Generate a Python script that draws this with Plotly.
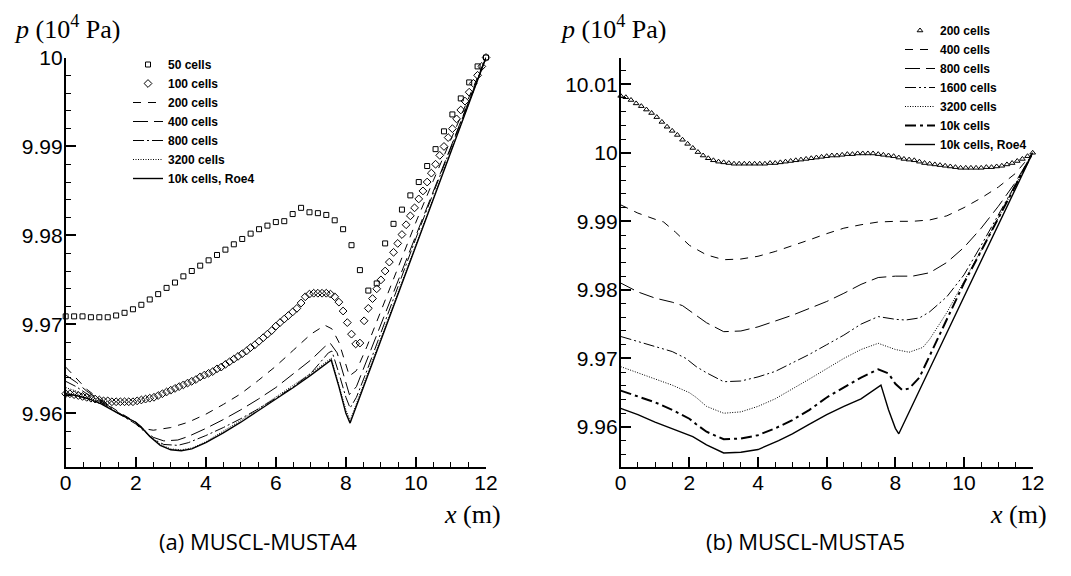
import plotly.graph_objects as go

# ---------------- data: left panel (MUSCL-MUSTA4) ----------------
dx_50 = 0.24
p_50 = [9.9709, 9.9709, 9.9709, 9.9708, 9.9708, 9.9708, 9.9710, 9.9713, 9.9717, 9.9722,
        9.9728, 9.9734, 9.9741, 9.9747, 9.9754, 9.9760, 9.9766, 9.9772, 9.9778, 9.9784,
        9.9790, 9.9796, 9.9802, 9.9807, 9.9811, 9.9815, 9.9816, 9.9824, 9.9831, 9.9826,
        9.9825, 9.9823, 9.9817, 9.9807, 9.9789, 9.9761, 9.9738, 9.9746, 9.9791, 9.9813,
        9.9829, 9.9845, 9.9860, 9.9878, 9.9897, 9.9917, 9.9936, 9.9954, 9.9972, 9.9990,
        10.0000]

dx_100 = 0.12
p_100 = [9.9622, 9.9622, 9.9621, 9.9620, 9.9619, 9.9618, 9.9617, 9.9616, 9.9615, 9.9614,
         9.9614, 9.9613, 9.9613, 9.9613, 9.9613, 9.9613, 9.9613, 9.9614, 9.9615, 9.9616,
         9.9617, 9.9618, 9.9620, 9.9622, 9.9624, 9.9626, 9.9628, 9.9630, 9.9632, 9.9634,
         9.9636, 9.9638, 9.9641, 9.9643, 9.9645, 9.9647, 9.9650, 9.9652, 9.9655, 9.9658,
         9.9661, 9.9664, 9.9667, 9.9670, 9.9674, 9.9677, 9.9681, 9.9685, 9.9689, 9.9693,
         9.9698, 9.9702, 9.9706, 9.9710, 9.9714, 9.9718, 9.9724, 9.9731, 9.9734, 9.9735,
         9.9735, 9.9735, 9.9735, 9.9734, 9.9731, 9.9725, 9.9715, 9.9702, 9.9689, 9.9678,
         9.9679, 9.9704, 9.9718, 9.9729, 9.9740, 9.9750, 9.9760, 9.9770, 9.9781, 9.9791,
         9.9801, 9.9812, 9.9822, 9.9831, 9.9841, 9.9850, 9.9860, 9.9870, 9.9880, 9.9890,
         9.9900, 9.9910, 9.9920, 9.9931, 9.9941, 9.9951, 9.9961, 9.9971, 9.9980, 9.9990,
         10.0000]

a200_x = [0, 0.3, 0.6, 1.0, 1.5, 2.0, 2.2, 2.5, 3.0, 3.5, 4.0, 4.5, 5.0, 5.5, 6.0, 6.5, 7.0,
          7.4, 7.6, 7.8, 8.0, 8.1, 8.3, 8.6, 9.0, 9.5, 10.0, 10.5, 11.0, 11.5, 12.0]
a200_p = [9.9652, 9.9640, 9.9627, 9.9615, 9.9602, 9.9590, 9.9583, 9.9581, 9.9584, 9.9590,
          9.9599, 9.9610, 9.9622, 9.9637, 9.9653, 9.9671, 9.9689, 9.9699, 9.9695, 9.9680,
          9.9653, 9.9642, 9.9648, 9.9675, 9.9715, 9.9765, 9.9815, 9.9862, 9.9908, 9.9954, 10.0]

a400_x = [0, 0.3, 0.6, 1.0, 1.5, 2.0, 2.2, 2.5, 2.8, 3.2, 3.5, 4.0, 4.5, 5.0, 5.5, 6.0, 6.5,
          7.0, 7.4, 7.55, 7.75, 7.95, 8.1, 8.3, 8.6, 9.0, 9.5, 10.0, 10.5, 11.0, 11.5, 12.0]
a400_p = [9.9643, 9.9635, 9.9625, 9.9614, 9.9601, 9.9589, 9.9582, 9.9573, 9.9569, 9.9570,
          9.9574, 9.9583, 9.9593, 9.9604, 9.9616, 9.9629, 9.9644, 9.9660, 9.9675, 9.9679,
          9.9668, 9.9640, 9.9621, 9.9630, 9.9660, 9.9700, 9.9752, 9.9802, 9.9852, 9.9901,
          9.9951, 10.0]

a800_x = [0, 0.3, 0.6, 1.0, 1.5, 2.0, 2.2, 2.5, 2.8, 3.2, 3.5, 4.0, 4.5, 5.0, 5.5, 6.0, 6.5,
          7.0, 7.5, 7.6, 7.8, 8.0, 8.12, 8.3, 8.6, 9.0, 9.5, 10.0, 10.5, 11.0, 11.5, 12.0]
a800_p = [9.9636, 9.9630, 9.9622, 9.9613, 9.9600, 9.9588, 9.9581, 9.9571, 9.9565, 9.9564,
          9.9567, 9.9575, 9.9584, 9.9594, 9.9605, 9.9617, 9.9630, 9.9645, 9.9668, 9.9670,
          9.9645, 9.9618, 9.9606, 9.9618, 9.9648, 9.9691, 9.9744, 9.9797, 9.9848, 9.9899,
          9.9950, 10.0]

a3200_x = [0, 0.3, 0.6, 1.0, 1.5, 2.0, 2.15, 2.4, 2.7, 3.0, 3.3, 3.6, 4.0, 4.5, 5.0, 5.5,
           6.0, 6.5, 7.0, 7.58, 7.8, 8.0, 8.12, 9.0, 10.0, 11.0, 12.0]
a3200_p = [9.9629, 9.9625, 9.9619, 9.9612, 9.9600, 9.9590, 9.9585, 9.9575, 9.9565, 9.9560,
           9.9559, 9.9561, 9.9568, 9.9580, 9.9592, 9.9605, 9.9618, 9.9631, 9.9645, 9.9662,
           9.9633, 9.9604, 9.9592, 9.9685, 9.9790, 9.9895, 10.0]

aroe_x = [0, 0.3, 0.6, 1.0, 1.5, 2.0, 2.15, 2.4, 2.7, 3.0, 3.3, 3.6, 4.0, 4.5, 5.0, 5.5,
          6.0, 6.5, 7.0, 7.58, 7.8, 8.0, 8.12, 9.0, 10.0, 11.0, 12.0]
aroe_p = [9.9622, 9.9620, 9.9617, 9.9611, 9.9600, 9.9590, 9.9585, 9.9574, 9.9564, 9.9559,
          9.9558, 9.9560, 9.9567, 9.9578, 9.9590, 9.9603, 9.9616, 9.9629, 9.9643, 9.9660,
          9.9630, 9.9600, 9.9589, 9.9682, 9.9788, 9.9894, 10.0]

# ---------------- data: right panel (MUSCL-MUSTA5) ----------------
dx_200 = 0.15
b200_p = [10.0083, 10.0081, 10.0077, 10.0072, 10.0068, 10.0063, 10.0058, 10.0052, 10.0045, 10.0038,
          10.0032, 10.0026, 10.0019, 10.0013, 10.0007, 10.0001, 9.9996, 9.9992, 9.9989, 9.9987,
          9.9986, 9.9985, 9.9984, 9.9984, 9.9984, 9.9984, 9.9984, 9.9984, 9.9984, 9.9985,
          9.9985, 9.9986, 9.9987, 9.9988, 9.9989, 9.9990, 9.9991, 9.9992, 9.9993, 9.9994,
          9.9995, 9.9996, 9.9996, 9.9997, 9.9998, 9.9998, 9.9999, 9.9999, 9.9999, 9.9999,
          9.9998, 9.9997, 9.9996, 9.9995, 9.9993, 9.9991, 9.9990, 9.9989, 9.9987, 9.9985,
          9.9984, 9.9983, 9.9982, 9.9981, 9.9980, 9.9979, 9.9978, 9.9978, 9.9978, 9.9978,
          9.9978, 9.9979, 9.9979, 9.9980, 9.9981, 9.9983, 9.9985, 9.9988, 9.9991, 9.9995,
          10.0000]

b400_x = [0, 0.5, 1.0, 1.25, 1.6, 2.0, 2.5, 3.0, 3.5, 4.0, 4.5, 5.0, 5.5, 6.0, 6.5, 7.0, 7.5,
          8.0, 8.5, 9.0, 9.5, 10.0, 10.5, 11.0, 11.5, 12.0]
b400_p = [9.9924, 9.9912, 9.9903, 9.9899, 9.9884, 9.9865, 9.9851, 9.9844, 9.9845, 9.9849,
          9.9856, 9.9864, 9.9873, 9.9882, 9.9890, 9.9895, 9.9899, 9.9900, 9.9900, 9.9902,
          9.9908, 9.9920, 9.9934, 9.9950, 9.9970, 10.0]

b800_x = [0, 0.5, 1.0, 1.5, 1.8, 2.0, 2.5, 3.0, 3.5, 4.0, 4.5, 5.0, 5.5, 6.0, 6.5, 7.0, 7.5,
          8.0, 8.5, 9.0, 9.5, 10.0, 10.5, 11.0, 11.5, 12.0]
b800_p = [9.9810, 9.9797, 9.9788, 9.9782, 9.9777, 9.9770, 9.9752, 9.9739, 9.9740, 9.9746,
          9.9754, 9.9763, 9.9773, 9.9783, 9.9795, 9.9808, 9.9818, 9.9820, 9.9820, 9.9825,
          9.9840, 9.9862, 9.9890, 9.9922, 9.9957, 10.0]

b1600_x = [0, 0.5, 1.0, 1.5, 1.9, 2.2, 2.5, 3.0, 3.5, 4.0, 4.5, 5.0, 5.5, 6.0, 6.5, 7.0, 7.5,
           8.0, 8.3, 8.7, 9.0, 9.5, 10.0, 10.5, 11.0, 11.5, 12.0]
b1600_p = [9.9732, 9.9725, 9.9718, 9.9710, 9.9700, 9.9688, 9.9679, 9.9666, 9.9667, 9.9673,
           9.9681, 9.9693, 9.9706, 9.9720, 9.9734, 9.9750, 9.9761, 9.9757, 9.9756, 9.9759,
           9.9768, 9.9790, 9.9822, 9.9865, 9.9909, 9.9954, 10.0]

b3200_x = [0, 0.5, 1.0, 1.5, 2.0, 2.2, 2.5, 3.0, 3.5, 4.0, 4.5, 5.0, 5.5, 6.0, 6.5, 7.0, 7.5,
           8.0, 8.4, 8.8, 9.0, 9.5, 10.0, 10.5, 11.0, 11.5, 12.0]
b3200_p = [9.9688, 9.9679, 9.9670, 9.9661, 9.9650, 9.9643, 9.9630, 9.9620, 9.9622, 9.9630,
           9.9641, 9.9655, 9.9670, 9.9685, 9.9700, 9.9713, 9.9722, 9.9713, 9.9709, 9.9716,
           9.9728, 9.9767, 9.9812, 9.9858, 9.9905, 9.9952, 10.0]

b10k_x = [0, 0.5, 1.0, 1.5, 2.0, 2.2, 2.5, 3.0, 3.5, 4.0, 4.5, 5.0, 5.5, 6.0, 6.5, 7.0, 7.5,
          7.8, 8.0, 8.2, 8.4, 8.7, 9.0, 9.5, 10.0, 10.5, 11.0, 11.5, 12.0]
b10k_p = [9.9653, 9.9645, 9.9636, 9.9625, 9.9612, 9.9604, 9.9593, 9.9582, 9.9583, 9.9588,
          9.9598, 9.9610, 9.9625, 9.9643, 9.9658, 9.9672, 9.9684, 9.9678, 9.9663, 9.9654,
          9.9656, 9.9672, 9.9704, 9.9756, 9.9810, 9.9857, 9.9905, 9.9952, 10.0]

broe_x = [0, 0.5, 1.0, 1.5, 2.0, 2.1, 2.5, 3.0, 3.5, 4.0, 4.6, 5.0, 5.5, 6.0, 6.5, 7.0, 7.58,
          7.8, 8.0, 8.1, 9.0, 10.0, 11.0, 12.0]
broe_p = [9.9627, 9.9618, 9.9607, 9.9597, 9.9588, 9.9586, 9.9574, 9.9562, 9.9563, 9.9567,
          9.9580, 9.9590, 9.9604, 9.9618, 9.9630, 9.9641, 9.9661, 9.9625, 9.9598, 9.9590,
          9.9685, 9.9790, 9.9895, 10.0]

# tick labels
x_tickvals = [0, 2, 4, 6, 8, 10, 12]
x_ticktext = ["0", "2", "4", "6", "8", "10", "12"]
ya_tickvals = [9.96, 9.97, 9.98, 9.99, 10.0]
ya_ticktext = ["9.96", "9.97", "9.98", "9.99", "10"]
yb_tickvals = [9.96, 9.97, 9.98, 9.99, 10.0, 10.01]
yb_ticktext = ["9.96", "9.97", "9.98", "9.99", "10", "10.01"]

# page body has an 8 px margin: the figure is drawn from (8, 8)
OFF = 8
W, H = 1071 - OFF, 576 - OFF
def px(x):
    return (x - OFF) / W
def py(y):
    return 1 - (y - OFF) / H

BLK = "black"
fig = go.Figure()

def grid(dx, vals):
    return [round(i * dx, 4) for i in range(len(vals))]

# left panel traces
fig.add_trace(go.Scatter(x=grid(dx_50, p_50), y=p_50, mode="markers", name="50 cells",
                         marker=dict(symbol="square-open", size=5, color=BLK, line=dict(width=1)),
                         cliponaxis=False, xaxis="x", yaxis="y", legend="legend"))
fig.add_trace(go.Scatter(x=grid(dx_100, p_100), y=p_100, mode="markers", name="100 cells",
                         marker=dict(symbol="diamond-open", size=6, color=BLK, line=dict(width=1)),
                         cliponaxis=False, xaxis="x", yaxis="y", legend="legend"))
left_lines = [
    ("200 cells", a200_x, a200_p, "8px,7px", 1.0),
    ("400 cells", a400_x, a400_p, "15px,6px", 1.0),
    ("800 cells", a800_x, a800_p, "11px,3px,2px,3px", 1.0),
    ("3200 cells", a3200_x, a3200_p, "1px,1.5px", 1.0),
    ("10k cells, Roe4", aroe_x, aroe_p, "solid", 1.4),
]
for name, xs, ys, dash, w in left_lines:
    fig.add_trace(go.Scatter(x=xs, y=ys, mode="lines", name=name,
                             line=dict(color=BLK, width=w, dash=dash),
                             xaxis="x", yaxis="y", legend="legend"))

# right panel traces
fig.add_trace(go.Scatter(x=grid(dx_200, b200_p), y=b200_p, mode="markers", name="200 cells",
                         marker=dict(symbol="triangle-up-open", size=5, color=BLK, line=dict(width=1)),
                         cliponaxis=False, xaxis="x2", yaxis="y2", legend="legend2"))
right_lines = [
    ("400 cells", b400_x, b400_p, "8px,7px", 1.0),
    ("800 cells", b800_x, b800_p, "15px,6px", 1.0),
    ("1600 cells", b1600_x, b1600_p, "11px,3px,2px,3px,2px,3px", 1.0),
    ("3200 cells", b3200_x, b3200_p, "1px,1.5px", 1.0),
    ("10k cells", b10k_x, b10k_p, "11px,4px,3px,4px", 2.0),
    ("10k cells, Roe4", broe_x, broe_p, "solid", 1.4),
]
for name, xs, ys, dash, w in right_lines:
    fig.add_trace(go.Scatter(x=xs, y=ys, mode="lines", name=name,
                             line=dict(color=BLK, width=w, dash=dash),
                             xaxis="x2", yaxis="y2", legend="legend2"))

tickfont = dict(family="Liberation Sans, Arial, sans-serif", size=21, color=BLK)
common_x = dict(range=[0, 12], tickvals=x_tickvals, ticktext=x_ticktext, ticks="inside",
                ticklen=10, tickwidth=1.6, tickcolor=BLK, showline=True, linecolor=BLK,
                linewidth=1.6, showgrid=False, zeroline=False, tickfont=tickfont,
                automargin=False, ticklabelstandoff=-4,
                minor=dict(dtick=0.5, tick0=0, ticks="inside", ticklen=5, tickwidth=1, tickcolor=BLK))
common_y = dict(ticks="inside", ticklen=10, tickwidth=1.6, tickcolor=BLK, showline=True,
                linecolor=BLK, linewidth=1.6, showgrid=False, zeroline=False, tickfont=tickfont,
                automargin=False, ticklabelstandoff=-3,
                minor=dict(dtick=0.002, tick0=10.0, ticks="inside", ticklen=5, tickwidth=1,
                           tickcolor=BLK))

legfont = dict(family="Liberation Sans, Arial, sans-serif", size=12, color=BLK, weight="bold")
y_dom = [py(466.7), py(57.5)]
fig.update_layout(
    width=W, height=H, margin=dict(l=0, r=0, t=0, b=0, autoexpand=False),
    paper_bgcolor="white", plot_bgcolor="white",
    xaxis=dict(domain=[px(65.7), px(486)], anchor="y", **common_x),
    yaxis=dict(domain=y_dom, anchor="x", range=[9.954, 10.0], tickvals=ya_tickvals,
               ticktext=ya_ticktext, **common_y),
    xaxis2=dict(domain=[px(620.7), px(1032.7)], anchor="y2", **common_x),
    yaxis2=dict(domain=y_dom, anchor="x2", range=[9.9542, 10.0139], tickvals=yb_tickvals,
                ticktext=yb_ticktext, **common_y),
    legend=dict(x=px(128), y=py(50), xanchor="left", yanchor="top", bgcolor="rgba(0,0,0,0)",
                font=legfont, itemwidth=30, tracegroupgap=0),
    legend2=dict(x=px(900), y=py(16), xanchor="left", yanchor="top", bgcolor="rgba(0,0,0,0)",
                 font=legfont, itemwidth=30, tracegroupgap=0),
    showlegend=True,
)

serif = dict(family="Liberation Serif, DejaVu Serif, serif", size=26, color=BLK)
capfont = dict(family="Open Sans, Noto Sans, sans-serif", size=22, color=BLK)
ann = [
    dict(x=px(12), y=py(27), text="<i>p</i> (10<sup>4</sup> Pa)", font=serif,
         xanchor="left", yanchor="middle"),
    dict(x=px(558), y=py(27), text="<i>p</i> (10<sup>4</sup> Pa)", font=serif,
         xanchor="left", yanchor="middle"),
    dict(x=px(503), y=py(498), text="<i>x</i> (m)", font=serif, xanchor="right", yanchor="top"),
    dict(x=px(1049), y=py(498), text="<i>x</i> (m)", font=serif, xanchor="right", yanchor="top"),
    dict(x=px(258), y=py(541), text="(a) MUSCL-MUSTA4", font=capfont, xanchor="center",
         yanchor="middle"),
    dict(x=px(805), y=py(541), text="(b) MUSCL-MUSTA5", font=capfont, xanchor="center",
         yanchor="middle"),
]
for a in ann:
    a.update(xref="paper", yref="paper", showarrow=False)
fig.update_layout(annotations=ann)

fig.write_html("out.html")
